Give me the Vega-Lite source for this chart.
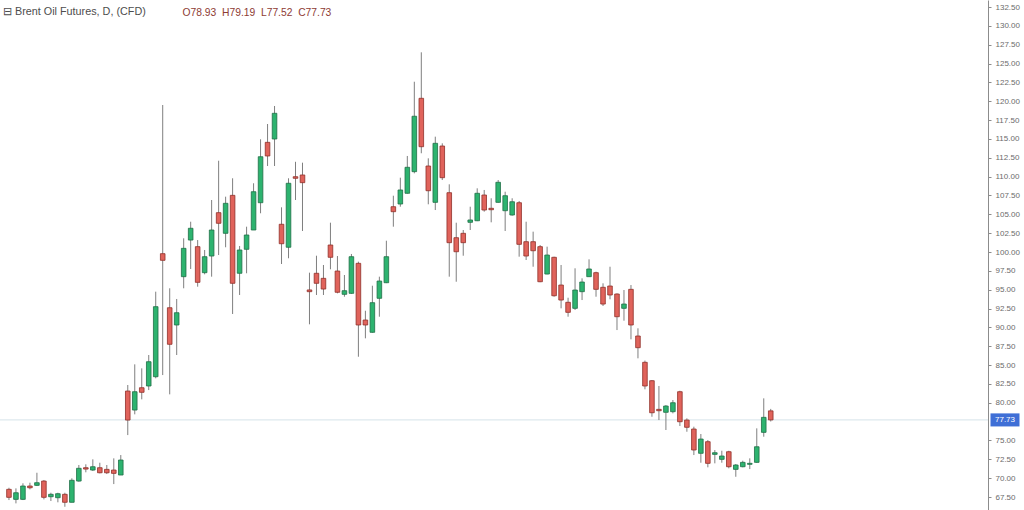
{
  "$schema": "https://vega.github.io/schema/vega-lite/v6.json",
  "width": 988,
  "height": 510,
  "autosize": {"type": "none"},
  "padding": {"left": 0, "top": 0, "right": 36, "bottom": 0},
  "background": "#ffffff",
  "config": {
    "view": {"stroke": null},
    "axisY": {
      "grid": false,
      "domain": true,
      "domainColor": "#8c8c8c",
      "domainWidth": 1,
      "tickColor": "#8c8c8c",
      "tickSize": 3,
      "labelFont": "Liberation Sans",
      "labelFontSize": 8,
      "labelColor": "#6b6b6b",
      "labelPadding": 4,
      "labelOverlap": false,
      "labelBound": false,
      "labelFlush": false
    }
  },
  "title": {
    "text": "⊟ Brent Oil Futures, D, (CFD)",
    "anchor": "start",
    "frame": "group",
    "orient": "top",
    "offset": -17,
    "dx": 3,
    "font": "Liberation Sans",
    "fontSize": 10.8,
    "fontWeight": "normal",
    "color": "#4d4d4d"
  },
  "data": {"values": [
    {"i":0,"o":68.52,"h":68.73,"l":67.10,"c":67.46},
    {"i":1,"o":67.19,"h":68.65,"l":66.66,"c":68.07},
    {"i":2,"o":67.19,"h":69.32,"l":67.10,"c":68.96},
    {"i":3,"o":68.96,"h":69.40,"l":68.52,"c":68.73},
    {"i":4,"o":69.05,"h":70.72,"l":68.96,"c":69.40},
    {"i":5,"o":69.62,"h":69.76,"l":67.19,"c":67.46},
    {"i":6,"o":67.54,"h":68.07,"l":66.97,"c":67.86},
    {"i":7,"o":67.41,"h":68.07,"l":66.80,"c":67.94},
    {"i":8,"o":67.86,"h":68.07,"l":66.21,"c":66.80},
    {"i":9,"o":66.80,"h":69.98,"l":66.80,"c":69.72},
    {"i":10,"o":69.62,"h":71.75,"l":69.53,"c":71.31},
    {"i":11,"o":71.39,"h":71.84,"l":70.78,"c":71.21},
    {"i":12,"o":71.08,"h":72.50,"l":70.95,"c":71.52},
    {"i":13,"o":71.39,"h":72.05,"l":70.64,"c":70.72},
    {"i":14,"o":71.17,"h":71.75,"l":70.55,"c":70.72},
    {"i":15,"o":71.08,"h":72.63,"l":69.22,"c":70.64},
    {"i":16,"o":70.42,"h":73.07,"l":70.42,"c":72.41},
    {"i":17,"o":81.56,"h":82.36,"l":75.72,"c":77.71},
    {"i":18,"o":79.04,"h":85.10,"l":78.47,"c":81.47},
    {"i":19,"o":82.00,"h":84.57,"l":80.46,"c":81.39},
    {"i":20,"o":82.23,"h":86.34,"l":81.69,"c":85.45},
    {"i":21,"o":83.46,"h":94.74,"l":83.25,"c":92.75},
    {"i":22,"o":99.78,"h":119.50,"l":83.68,"c":98.90},
    {"i":23,"o":92.61,"h":95.19,"l":81.12,"c":87.76},
    {"i":24,"o":90.32,"h":93.77,"l":86.34,"c":91.95},
    {"i":25,"o":96.73,"h":101.82,"l":95.19,"c":100.49},
    {"i":26,"o":101.59,"h":104.02,"l":97.75,"c":103.15},
    {"i":27,"o":100.71,"h":101.59,"l":95.40,"c":95.98},
    {"i":28,"o":97.26,"h":100.27,"l":97.04,"c":99.38},
    {"i":29,"o":99.47,"h":106.90,"l":96.73,"c":102.92},
    {"i":30,"o":105.22,"h":112.11,"l":99.60,"c":103.81},
    {"i":31,"o":102.48,"h":107.34,"l":100.63,"c":106.46},
    {"i":32,"o":107.52,"h":109.78,"l":91.78,"c":95.85},
    {"i":33,"o":97.18,"h":100.80,"l":94.30,"c":100.27},
    {"i":34,"o":100.36,"h":103.36,"l":97.18,"c":102.26},
    {"i":35,"o":102.92,"h":109.12,"l":102.92,"c":108.00},
    {"i":36,"o":106.54,"h":114.95,"l":105.14,"c":112.64},
    {"i":37,"o":114.55,"h":116.98,"l":111.41,"c":112.74},
    {"i":38,"o":114.99,"h":119.37,"l":111.41,"c":118.40},
    {"i":39,"o":103.68,"h":105.93,"l":98.41,"c":101.10},
    {"i":40,"o":100.63,"h":109.78,"l":99.17,"c":109.12},
    {"i":41,"o":109.99,"h":111.97,"l":106.90,"c":109.78},
    {"i":42,"o":110.22,"h":111.85,"l":102.79,"c":109.20},
    {"i":43,"o":94.97,"h":97.26,"l":90.41,"c":94.74},
    {"i":44,"o":97.18,"h":99.51,"l":94.30,"c":95.85},
    {"i":45,"o":96.51,"h":98.28,"l":94.30,"c":95.09},
    {"i":46,"o":100.93,"h":103.89,"l":97.71,"c":99.30},
    {"i":47,"o":97.48,"h":99.47,"l":94.52,"c":94.66},
    {"i":48,"o":94.39,"h":96.95,"l":94.07,"c":94.87},
    {"i":49,"o":94.52,"h":99.74,"l":94.45,"c":99.38},
    {"i":50,"o":98.50,"h":98.72,"l":86.11,"c":90.32},
    {"i":51,"o":90.98,"h":92.21,"l":88.55,"c":90.32},
    {"i":52,"o":89.35,"h":95.53,"l":89.30,"c":93.28},
    {"i":53,"o":93.86,"h":96.73,"l":91.42,"c":96.15},
    {"i":54,"o":95.93,"h":101.50,"l":95.88,"c":99.38},
    {"i":55,"o":106.01,"h":107.47,"l":103.36,"c":105.35},
    {"i":56,"o":106.37,"h":109.86,"l":106.01,"c":108.23},
    {"i":57,"o":107.79,"h":112.74,"l":107.75,"c":111.24},
    {"i":58,"o":110.66,"h":122.59,"l":110.44,"c":118.01},
    {"i":59,"o":120.39,"h":126.49,"l":113.10,"c":113.97},
    {"i":60,"o":111.41,"h":112.43,"l":106.33,"c":108.13},
    {"i":61,"o":106.59,"h":115.30,"l":105.57,"c":114.42},
    {"i":62,"o":114.06,"h":114.42,"l":109.55,"c":109.86},
    {"i":63,"o":107.87,"h":108.98,"l":96.73,"c":101.24},
    {"i":64,"o":101.90,"h":103.89,"l":96.06,"c":100.04},
    {"i":65,"o":102.48,"h":102.92,"l":99.51,"c":101.24},
    {"i":66,"o":103.94,"h":106.01,"l":102.92,"c":104.25},
    {"i":67,"o":104.15,"h":108.45,"l":104.10,"c":107.79},
    {"i":68,"o":107.56,"h":108.23,"l":105.35,"c":105.57},
    {"i":69,"o":105.80,"h":107.13,"l":103.94,"c":105.61},
    {"i":70,"o":106.59,"h":109.55,"l":106.55,"c":109.25},
    {"i":71,"o":105.48,"h":108.00,"l":102.79,"c":107.47},
    {"i":72,"o":104.91,"h":107.13,"l":104.82,"c":106.67},
    {"i":73,"o":106.54,"h":106.77,"l":99.38,"c":101.02},
    {"i":74,"o":101.37,"h":104.02,"l":98.94,"c":99.47},
    {"i":75,"o":101.37,"h":102.70,"l":98.05,"c":100.17},
    {"i":76,"o":100.71,"h":100.93,"l":96.00,"c":96.06},
    {"i":77,"o":97.08,"h":100.71,"l":97.05,"c":99.60},
    {"i":78,"o":99.30,"h":99.38,"l":94.07,"c":94.20},
    {"i":79,"o":95.62,"h":98.28,"l":92.53,"c":93.63},
    {"i":80,"o":93.33,"h":93.94,"l":91.42,"c":92.00},
    {"i":81,"o":92.53,"h":97.84,"l":92.31,"c":94.96},
    {"i":82,"o":94.74,"h":96.51,"l":93.63,"c":96.02},
    {"i":83,"o":96.73,"h":99.03,"l":96.70,"c":97.75},
    {"i":84,"o":97.26,"h":97.39,"l":94.07,"c":95.05},
    {"i":85,"o":95.32,"h":95.85,"l":92.84,"c":93.10},
    {"i":86,"o":95.49,"h":98.05,"l":93.73,"c":94.30},
    {"i":87,"o":94.43,"h":94.52,"l":89.65,"c":91.42},
    {"i":88,"o":92.53,"h":94.96,"l":90.89,"c":93.10},
    {"i":89,"o":95.05,"h":95.62,"l":88.42,"c":90.32},
    {"i":90,"o":88.86,"h":89.88,"l":85.90,"c":87.31},
    {"i":91,"o":85.37,"h":85.60,"l":81.79,"c":82.23},
    {"i":92,"o":82.93,"h":83.02,"l":78.15,"c":78.68},
    {"i":93,"o":79.13,"h":82.23,"l":77.71,"c":78.95},
    {"i":94,"o":78.74,"h":79.70,"l":76.39,"c":79.57},
    {"i":95,"o":78.82,"h":80.37,"l":78.60,"c":80.01},
    {"i":96,"o":81.47,"h":81.60,"l":76.92,"c":77.49},
    {"i":97,"o":77.71,"h":77.94,"l":76.16,"c":76.75},
    {"i":98,"o":76.52,"h":76.83,"l":73.07,"c":73.74},
    {"i":99,"o":73.30,"h":75.86,"l":72.05,"c":75.19},
    {"i":100,"o":74.84,"h":75.06,"l":71.44,"c":71.97},
    {"i":101,"o":73.16,"h":73.73,"l":71.97,"c":73.38},
    {"i":102,"o":72.50,"h":73.64,"l":72.05,"c":72.94},
    {"i":103,"o":73.51,"h":73.64,"l":71.31,"c":71.52},
    {"i":104,"o":71.17,"h":71.88,"l":70.19,"c":71.75},
    {"i":105,"o":71.52,"h":72.32,"l":71.44,"c":72.10},
    {"i":106,"o":71.84,"h":72.63,"l":71.21,"c":71.97},
    {"i":107,"o":72.10,"h":76.61,"l":72.05,"c":74.17},
    {"i":108,"o":76.08,"h":80.59,"l":75.50,"c":78.07},
    {"i":109,"o":78.93,"h":79.19,"l":77.52,"c":77.73}
  ]},
  "encoding": {
    "x": {"field": "i", "type": "quantitative", "scale": {"domain": [-0.567, 139.37], "nice": false, "zero": false},
      "axis": {"orient": "top", "title": "O78.93\u00a0 H79.19\u00a0 L77.52\u00a0 C77.73", "labels": false, "ticks": false, "domain": false, "grid": false,
        "titleX": 182, "titleY": 15.5, "titleAnchor": "start", "titleAlign": "left", "titleBaseline": "alphabetic", "titleAngle": 0,
        "titleFont": "Liberation Sans", "titleFontSize": 10.3, "titleFontWeight": "normal", "titleColor": "#8e3b34"}}
  },
  "layer": [
    {
      "transform": [{"filter": "datum.i == 109"}],
      "mark": {"type": "rule", "color": "#d5e3ea", "strokeWidth": 1},
      "encoding": {
        "x": null,
        "y": {"field": "c", "type": "quantitative",
          "scale": {"domain": [65.78, 133.43], "nice": false, "zero": false},
          "axis": {"orient": "right", "title": null, "format": ".2f", "values": [67.5,70,72.5,75,80,82.5,85,87.5,90,92.5,95,97.5,100,102.5,105,107.5,110,112.5,115,117.5,120,122.5,125,127.5,130,132.5]}
        }
      }
    },
    {
      "mark": {"type": "rule", "color": "#7f7f7f", "strokeWidth": 1},
      "encoding": {
        "y": {"field": "l", "type": "quantitative",
          "axis": {"orient": "right", "title": null, "format": ".2f", "values": [67.5,70,72.5,75,80,82.5,85,87.5,90,92.5,95,97.5,100,102.5,105,107.5,110,112.5,115,117.5,120,122.5,125,127.5,130,132.5]}},
        "y2": {"field": "h"}
      }
    },
    {
      "mark": {"type": "bar", "width": 4.6, "strokeWidth": 0.8},
      "encoding": {
        "y": {"field": "o", "type": "quantitative",
          "axis": {"orient": "right", "title": null, "format": ".2f", "values": [67.5,70,72.5,75,80,82.5,85,87.5,90,92.5,95,97.5,100,102.5,105,107.5,110,112.5,115,117.5,120,122.5,125,127.5,130,132.5]}},
        "y2": {"field": "c"},
        "fill": {"condition": {"test": "datum.c >= datum.o", "value": "#2db36f"}, "value": "#e0635b"},
        "stroke": {"condition": {"test": "datum.c >= datum.o", "value": "#1f6e46"}, "value": "#8f3029"}
      }
    },
    {
      "transform": [{"filter": "datum.i == 109"}],
      "mark": {"type": "point", "shape": "M-1,-0.45H1V0.45H-1Z", "size": 841, "filled": true, "opacity": 1, "color": "#3f6fd6", "xOffset": 17},
      "encoding": {
        "x": {"value": "width"},
        "y": {"field": "c", "type": "quantitative",
          "axis": {"orient": "right", "title": null, "format": ".2f", "values": [67.5,70,72.5,75,80,82.5,85,87.5,90,92.5,95,97.5,100,102.5,105,107.5,110,112.5,115,117.5,120,122.5,125,127.5,130,132.5]}}
      }
    },
    {
      "transform": [{"filter": "datum.i == 109"}],
      "mark": {"type": "text", "color": "#ffffff", "font": "Liberation Sans", "fontSize": 8, "align": "center", "baseline": "middle", "dx": 17},
      "encoding": {
        "x": {"value": "width"},
        "y": {"field": "c", "type": "quantitative",
          "axis": {"orient": "right", "title": null, "format": ".2f", "values": [67.5,70,72.5,75,80,82.5,85,87.5,90,92.5,95,97.5,100,102.5,105,107.5,110,112.5,115,117.5,120,122.5,125,127.5,130,132.5]}},
        "text": {"field": "c", "type": "quantitative", "format": ".2f"}
      }
    }
  ]
}
